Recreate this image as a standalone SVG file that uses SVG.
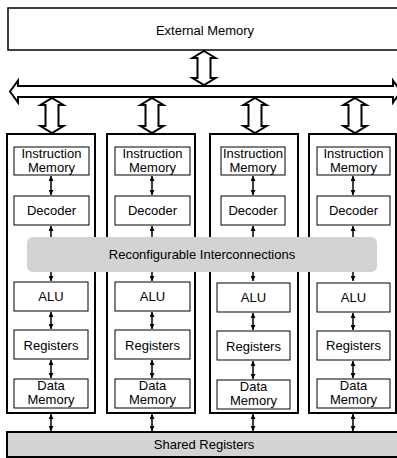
<svg xmlns="http://www.w3.org/2000/svg" width="397" height="458" viewBox="0 0 397 458">
<defs>
<marker id="ah" viewBox="0 0 5 5" refX="5" refY="2.5" markerWidth="5" markerHeight="5" markerUnits="userSpaceOnUse" orient="auto-start-reverse"><path d="M0,0 L5,2.5 L0,5 Z" fill="#000"/></marker>
<style>
text{font-family:"Liberation Sans",Arial,sans-serif;font-size:13px;fill:#000;text-anchor:middle}
.box{fill:#fff;stroke:#000;stroke-width:1}
.col{fill:#fff;stroke:#000;stroke-width:2}
.big{fill:#fff;stroke:#000;stroke-width:2;stroke-linejoin:miter}
.gray{fill:#d3d3d3;stroke:#000;stroke-width:2}
.sa{stroke:#000;stroke-width:1.5;fill:none}
.d{marker-start:url(#ah);marker-end:url(#ah)}
.u{marker-end:url(#ah)}
</style>
</defs>
<g id="external-memory"><rect x="8" y="8" width="395" height="42" fill="#fff" stroke="#000" stroke-width="1.5"/><text x="205" y="35">External Memory</text></g>
<g id="bus"><path class="big" d="M10,91.5 L18,80.5 L18,86 L393,86 L393,80.5 L401,91.5 L393,102.5 L393,97 L18,97 L18,102.5 Z"/></g>
<g id="col1"><rect class="col" x="7" y="134" width="88" height="279"/></g>
<g id="col2"><rect class="col" x="107" y="134" width="88" height="279"/></g>
<g id="col3"><rect class="col" x="210" y="134" width="88" height="279"/></g>
<g id="col4"><rect class="col" x="309" y="134" width="87" height="279"/></g>
<g id="connectors">
<path class="big" d="M204,51 L215.5,58 L210.5,58 L210.5,78 L215.5,78 L204,85 L192.5,78 L197.5,78 L197.5,58 L192.5,58 Z"/>
<path class="big" d="M52,98 L63.5,105 L58.5,105 L58.5,126 L63.5,126 L52,133 L40.5,126 L45.5,126 L45.5,105 L40.5,105 Z"/>
<path class="big" d="M152,98 L163.5,105 L158.5,105 L158.5,126 L163.5,126 L152,133 L140.5,126 L145.5,126 L145.5,105 L140.5,105 Z"/>
<path class="big" d="M255,98 L266.5,105 L261.5,105 L261.5,126 L266.5,126 L255,133 L243.5,126 L248.5,126 L248.5,105 L243.5,105 Z"/>
<path class="big" d="M355,98 L366.5,105 L361.5,105 L361.5,126 L366.5,126 L355,133 L343.5,126 L348.5,126 L348.5,105 L343.5,105 Z"/>
<line class="sa d" x1="51" y1="176" x2="51" y2="195"/>
<line class="sa u" x1="51" y1="240" x2="51" y2="226"/>
<line class="sa u" x1="51" y1="272" x2="51" y2="281"/>
<line class="sa d" x1="51" y1="312" x2="51" y2="329"/>
<line class="sa d" x1="51" y1="360" x2="51" y2="378"/>
<line class="sa d" x1="51" y1="414" x2="51" y2="431"/>
<line class="sa d" x1="152" y1="176" x2="152" y2="195"/>
<line class="sa u" x1="152" y1="240" x2="152" y2="226"/>
<line class="sa u" x1="152" y1="272" x2="152" y2="281"/>
<line class="sa d" x1="152" y1="312" x2="152" y2="329"/>
<line class="sa d" x1="152" y1="360" x2="152" y2="378"/>
<line class="sa d" x1="152" y1="414" x2="152" y2="431"/>
<line class="sa d" x1="253" y1="176" x2="253" y2="195"/>
<line class="sa u" x1="253" y1="240" x2="253" y2="226"/>
<line class="sa u" x1="253" y1="272" x2="253" y2="281"/>
<line class="sa d" x1="253" y1="313" x2="253" y2="330"/>
<line class="sa d" x1="253" y1="361" x2="253" y2="379"/>
<line class="sa d" x1="253" y1="414" x2="253" y2="431"/>
<line class="sa d" x1="353" y1="176" x2="353" y2="195"/>
<line class="sa u" x1="353" y1="240" x2="353" y2="226"/>
<line class="sa u" x1="353" y1="272" x2="353" y2="281"/>
<line class="sa d" x1="353" y1="313" x2="353" y2="330"/>
<line class="sa d" x1="353" y1="361" x2="353" y2="378"/>
<line class="sa d" x1="353" y1="414" x2="353" y2="431"/>
</g>
<g id="im1"><rect class="box" x="14" y="147" width="75" height="28"/><text x="51.5" y="158">Instruction</text><text x="51.5" y="172">Memory</text></g>
<g id="dec1"><rect class="box" x="14" y="196" width="75" height="29"/><text x="51.5" y="215">Decoder</text></g>
<g id="alu1"><rect class="box" x="14" y="282" width="74" height="29"/><text x="51" y="301">ALU</text></g>
<g id="reg1"><rect class="box" x="14" y="330" width="74" height="29"/><text x="51" y="350">Registers</text></g>
<g id="dm1"><rect class="box" x="14" y="379" width="74" height="29"/><text x="51" y="390">Data</text><text x="51" y="404">Memory</text></g>
<g id="im2"><rect class="box" x="115" y="147" width="75" height="28"/><text x="152.5" y="158">Instruction</text><text x="152.5" y="172">Memory</text></g>
<g id="dec2"><rect class="box" x="115" y="196" width="75" height="29"/><text x="152.5" y="215">Decoder</text></g>
<g id="alu2"><rect class="box" x="115" y="282" width="75" height="29"/><text x="152.5" y="301">ALU</text></g>
<g id="reg2"><rect class="box" x="115" y="330" width="75" height="29"/><text x="152.5" y="350">Registers</text></g>
<g id="dm2"><rect class="box" x="115" y="379" width="75" height="29"/><text x="152.5" y="390">Data</text><text x="152.5" y="404">Memory</text></g>
<g id="im3"><rect class="box" x="221" y="147" width="64" height="28"/><text x="253" y="158">Instruction</text><text x="253" y="172">Memory</text></g>
<g id="dec3"><rect class="box" x="221" y="196" width="64" height="29"/><text x="253" y="215">Decoder</text></g>
<g id="alu3"><rect class="box" x="217" y="283" width="73" height="29"/><text x="253.5" y="302">ALU</text></g>
<g id="reg3"><rect class="box" x="217" y="331" width="73" height="29"/><text x="253.5" y="351">Registers</text></g>
<g id="dm3"><rect class="box" x="217" y="380" width="73" height="29"/><text x="253.5" y="391">Data</text><text x="253.5" y="405">Memory</text></g>
<g id="im4"><rect class="box" x="317" y="147" width="73" height="28"/><text x="353.5" y="158">Instruction</text><text x="353.5" y="172">Memory</text></g>
<g id="dec4"><rect class="box" x="317" y="196" width="73" height="29"/><text x="353.5" y="215">Decoder</text></g>
<g id="alu4"><rect class="box" x="317" y="283" width="73" height="29"/><text x="353.5" y="302">ALU</text></g>
<g id="reg4"><rect class="box" x="317" y="331" width="73" height="29"/><text x="353.5" y="350">Registers</text></g>
<g id="dm4"><rect class="box" x="317" y="379" width="73" height="29"/><text x="353.5" y="390">Data</text><text x="353.5" y="404">Memory</text></g>
<g id="interconnect"><rect x="27" y="237" width="350" height="35" rx="6" ry="6" fill="#d3d3d3"/><text x="202" y="259">Reconfigurable Interconnections</text></g>
<g id="shared-registers"><rect class="gray" x="7" y="432" width="396" height="25"/><text x="204" y="449">Shared Registers</text></g>
</svg>
